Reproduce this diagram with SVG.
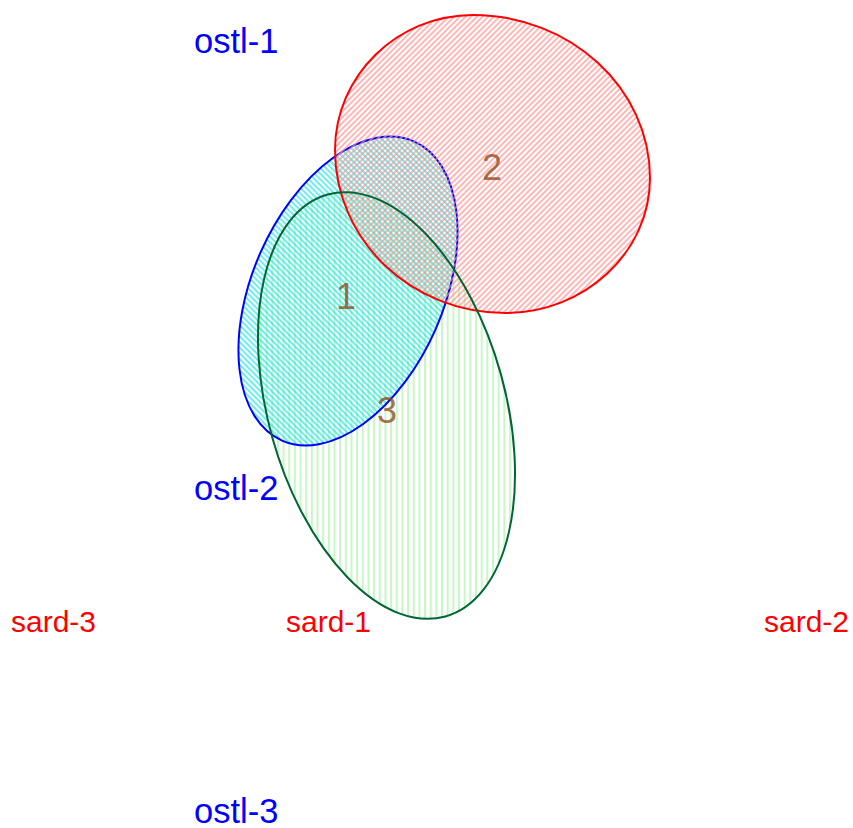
<svg xmlns="http://www.w3.org/2000/svg" width="853" height="828" viewBox="0 0 853 828">
<style>
.lab{font-family:"Liberation Sans",Arial,sans-serif;font-size:34.5px}
.blue{fill:#0000ff}
.red{fill:#ff0000;font-size:30px}
.num{font-family:"Liberation Sans",Arial,sans-serif;font-size:36px;fill:#8b4513;fill-opacity:0.75;text-anchor:middle}
</style>
<defs>
<pattern id="pRed" patternUnits="userSpaceOnUse" width="4" height="4" patternTransform="rotate(45)">
<line x1="1" y1="0" x2="1" y2="4" stroke="#ff9090" stroke-width="1.3"/>
</pattern>
<pattern id="pBlue" patternUnits="userSpaceOnUse" width="4" height="4" patternTransform="rotate(21.2)">
<line x1="1" y1="0" x2="1" y2="4" stroke="#1ee6e6" stroke-width="1.3"/>
</pattern>
<pattern id="pGreen" patternUnits="userSpaceOnUse" width="5.66" height="10" patternTransform="rotate(-74.4)">
<line x1="1" y1="0" x2="1" y2="10" stroke="#c6f7c6" stroke-width="2"/>
</pattern>
</defs>
<g id="set-green-fill">
<ellipse cx="386.5" cy="405.5" rx="219" ry="118.6" transform="rotate(74.4 386.5 405.5)" fill="url(#pGreen)"/>
</g>
<g id="set-blue">
<ellipse cx="348" cy="291" rx="163.5" ry="95.6" transform="rotate(-66.2 348 291)" fill="url(#pBlue)" stroke="#0000ff" stroke-width="2"/>
</g>
<g id="set-red">
<path d="M473,15 C570,15 650,88 650,178 C650,252 585,313 505,313 C411,313 335,240 335,150 C335,76 397,15 473,15 Z" fill="url(#pRed)" stroke="#ff0000" stroke-width="2"/>
</g>
<g id="set-green">
<ellipse cx="386.5" cy="405.5" rx="219" ry="118.6" transform="rotate(74.4 386.5 405.5)" fill="none" stroke="#006633" stroke-width="2"/>
</g>
<g id="counts">
<text class="num" x="346" y="309">1</text>
<text class="num" x="492" y="180">2</text>
<text class="num" x="387" y="423">3</text>
</g>
<g id="labels">
<text class="lab blue" x="194" y="53">ostl-1</text>
<text class="lab blue" x="194" y="500">ostl-2</text>
<text class="lab blue" x="194" y="823">ostl-3</text>
<text class="lab red" x="11" y="632">sard-3</text>
<text class="lab red" x="286" y="632">sard-1</text>
<text class="lab red" x="764" y="632">sard-2</text>
</g>
</svg>
